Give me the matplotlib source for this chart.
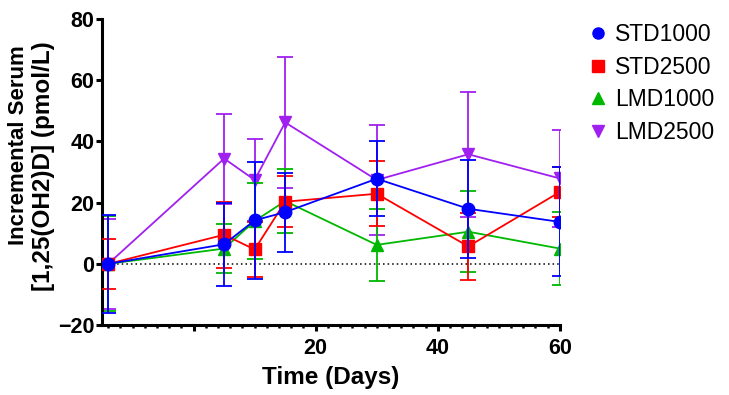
import matplotlib
matplotlib.use("Agg")
import matplotlib.pyplot as plt
from matplotlib.ticker import MultipleLocator, FixedLocator
from matplotlib.lines import Line2D

plt.rcParams['font.family'] = ['Liberation Sans', 'DejaVu Sans']

# time points (baseline plotted at -14 days)
days = [-14, 5, 10, 15, 30, 45, 60]

std1000 = [0, 6.4, 14.2, 16.9, 27.8, 18.0, 13.7]
std1000_err = [16.0, 13.6, 19.0, 12.9, 12.3, 16.0, 17.8]

std2500 = [0, 9.5, 4.7, 20.3, 22.9, 5.7, 23.5]
std2500_err = [8.2, 10.8, 9.1, 8.3, 10.6, 10.9, 8.2]

lmd1000 = [0, 5.0, 14.0, 20.5, 6.2, 10.5, 5.0]
lmd1000_err = [15.5, 8.0, 12.4, 10.5, 11.8, 13.2, 12.0]

lmd2500 = [0, 34.4, 27.4, 46.2, 27.4, 35.8, 27.9]
lmd2500_err = [14.8, 14.7, 13.5, 21.5, 18.0, 20.5, 15.8]

series = [
    ("STD1000", std1000, std1000_err, "#0000FF", "o", 4),
    ("STD2500", std2500, std2500_err, "#FF0000", "s", 3),
    ("LMD1000", lmd1000, lmd1000_err, "#00B800", "^", 2),
    ("LMD2500", lmd2500, lmd2500_err, "#A020F0", "v", 1),
]

fig = plt.figure(figsize=(7.29, 3.95), dpi=100)
ax = fig.add_axes([0.140, 0.177, 0.628, 0.775])

# dotted zero line
ax.plot([days[0], days[-1]], [0, 0], color="black", linestyle=(0, (1, 2)), linewidth=1.1, zorder=0)

handles = []
for name, vals, errs, col, mk, z in series:
    ax.errorbar(days, vals, yerr=errs, color=col, marker=mk, markersize=9,
                linewidth=1.3, elinewidth=1.3, capsize=5.5, capthick=1.3, zorder=z)
    handles.append(Line2D([], [], color=col, marker=mk, markersize=8, linestyle="none", label=name))

ax.set_xlim(-15, 60)
ax.set_ylim(-20, 80)
ax.xaxis.set_major_locator(FixedLocator([0, 20, 40, 60]))
ax.xaxis.set_minor_locator(MultipleLocator(2))
ax.set_xticklabels(["", "20", "40", "60"])
ax.set_yticks([-20, 0, 20, 40, 60, 80])
ax.set_yticklabels(["\u221220", "0", "20", "40", "60", "80"])

for s in ["top", "right"]:
    ax.spines[s].set_visible(False)
for s in ["left", "bottom"]:
    ax.spines[s].set_linewidth(2.2)
ax.tick_params(axis="both", which="major", width=2.2, length=4, labelsize=15.5)
ax.tick_params(axis="y", which="major", pad=1.5)
ax.tick_params(axis="x", which="major", pad=5)
ax.tick_params(axis="x", which="minor", width=1.8, length=2.5)
for lbl in ax.get_xticklabels() + ax.get_yticklabels():
    lbl.set_fontweight("bold")

ax.set_xlabel("Time (Days)", fontsize=17.5, fontweight="bold", labelpad=5)
# two-line y label, lines placed separately as in the original
fig.text(19 / 729, 1 - 145 / 395, "Incremental Serum", rotation=90, ha="center", va="center",
         fontsize=16, fontweight="bold")
fig.text(44 / 729, 1 - 166 / 395, "[1,25(OH2)D] (pmol/L)", rotation=90, ha="center", va="center",
         fontsize=17.5, fontweight="bold")

fig.legend(handles=handles, loc="upper left", bbox_to_anchor=(589 / 729, 1 - 23 / 395),
           frameon=False, fontsize=16.5, handlelength=0.8, handletextpad=0.35,
           labelspacing=0.42, borderaxespad=0, borderpad=0)

fig.savefig("out.png", dpi=100)
